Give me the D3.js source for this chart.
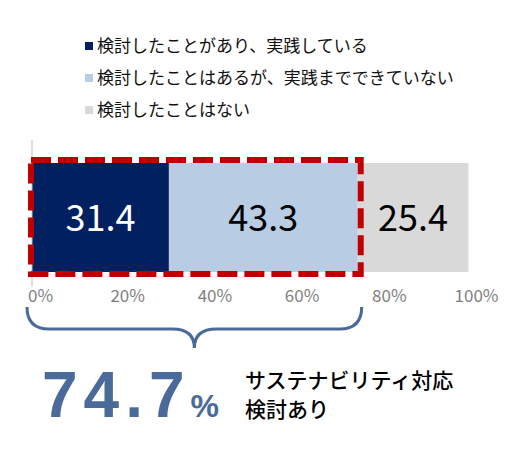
<!DOCTYPE html>
<html>
<head>
<meta charset="utf-8">
<script src="https://cdn.jsdelivr.net/npm/d3@7"></script>
<style>
  body { margin: 0; background: #fff; }
  svg { display: block; }
</style>
</head>
<body>
<svg id="chart"></svg>
<script>
// Variables
var width = 525;
var height = 459;

// Data
var categories = ['検討したことがあり、実践している', '検討したことはあるが、実践までできていない', '検討したことはない'];
var values = [31.4, 43.3, 25.4];
var colors = ['#002060', '#B8CCE4', '#D9D9D9'];
var labelColors = ['#ffffff', '#000000', '#000000'];
var tickValues = [0, 20, 40, 60, 80, 100];
var totalLabel = '74.7';
var totalText = ['サステナビリティ対応', '検討あり'];

var jp = '"Noto Sans CJK JP", "Noto Sans", sans-serif';

var svg = d3.select("#chart").attr("width", width).attr("height", height);

// x scale (percent -> pixels)
var x = d3.scaleLinear().domain([0, 100]).range([32, 468]);
var barTop = 163, barH = 109;

// stacked segments
var stack = [];
var acc = 0;
values.forEach(function (v, i) {
    stack.push({ x0: acc, x1: acc + v, value: v, i: i });
    acc += v;
});

// Legend
var legend = svg.append("g");
categories.forEach(function (c, i) {
    var y = 46 + i * 32;
    legend.append("rect").attr("x", 85).attr("y", y - 4).attr("width", 8).attr("height", 8)
        .style("fill", colors[i]);
    legend.append("text").attr("x", 97).attr("y", y).attr("dy", "0.35em")
        .style("font-family", jp).style("font-size", "17px").style("fill", "#111")
        .text(c);
});

// Bars
svg.selectAll("rect.seg").data(stack).enter().append("rect")
    .attr("class", "seg")
    .attr("x", function (d) { return x(d.x0); })
    .attr("width", function (d) { return x(d.x1) - x(d.x0); })
    .attr("y", barTop).attr("height", barH)
    .style("fill", function (d) { return colors[d.i]; });

// value labels
svg.selectAll("text.val").data(stack).enter().append("text")
    .attr("class", "val")
    .attr("x", function (d) { return (x(d.x0) + x(d.x1)) / 2; })
    .attr("y", barTop + barH / 2 + 1)
    .attr("dy", "0.35em")
    .attr("text-anchor", "middle")
    .style("font-family", jp).style("font-size", "36px")
    .style("fill", function (d) { return labelColors[d.i]; })
    .text(function (d) { return d3.format(".1f")(d.value); });

// Axis (vertical baseline + tick labels)
svg.append("line").attr("x1", x(0)).attr("x2", x(0)).attr("y1", 140).attr("y2", 287)
    .style("stroke", "#BFBFBF").style("stroke-width", 1);

var axis = d3.axisBottom(x).tickValues(tickValues).tickSize(0).tickFormat(function (d) { return d + "%"; });
var gAxis = svg.append("g").attr("transform", "translate(8,287)").call(axis);
gAxis.select(".domain").remove();
gAxis.selectAll("text").attr("y", 3).attr("dy", "0.71em")
    .style("font-family", jp).style("font-size", "17px").style("fill", "#7F7F7F");

// Dashed highlight box around the "検討あり" part
var sel = stack[0].x0, selEnd = stack[1].x1;
svg.append("rect")
    .attr("x", x(sel) - 1).attr("y", barTop - 3)
    .attr("width", x(selEnd) - x(sel) + 4).attr("height", barH + 5)
    .style("fill", "none").style("stroke", "#C00000").style("stroke-width", 6)
    .style("stroke-dasharray", "20,7");

// Curly brace under the selection
var bx0 = x(sel) - 5, bx1 = x(selEnd) + 4, mid = (bx0 + bx1) / 2;
var by0 = 307, by1 = 329, by2 = 348, r = 22;
var brace = d3.path();
brace.moveTo(bx0, by0);
brace.quadraticCurveTo(bx0, by1, bx0 + r, by1);
brace.lineTo(mid - r, by1);
brace.quadraticCurveTo(mid, by1, mid, by2);
brace.quadraticCurveTo(mid, by1, mid + r, by1);
brace.lineTo(bx1 - r, by1);
brace.quadraticCurveTo(bx1, by1, bx1, by0);
svg.append("path").attr("d", brace.toString())
    .style("fill", "none").style("stroke", "#4A6A9A").style("stroke-width", 3);

// Total
var total = svg.append("text").attr("x", 42).attr("y", 417)
    .style("font-family", '"Liberation Sans", Arial, sans-serif').style("fill", "#4A6A9A");
total.append("tspan").style("font-size", "64px").style("font-weight", "bold")
    .style("letter-spacing", "6px").text(totalLabel);
total.append("tspan").style("font-size", "32px").style("font-weight", "bold").text("%");

totalText.forEach(function (t, i) {
    svg.append("text").attr("x", 245).attr("y", 381 + i * 29).attr("dy", "0.35em")
        .style("font-family", jp).style("font-size", "21px").style("font-weight", 500)
        .style("fill", "#000").text(t);
});
</script>
</body>
</html>
